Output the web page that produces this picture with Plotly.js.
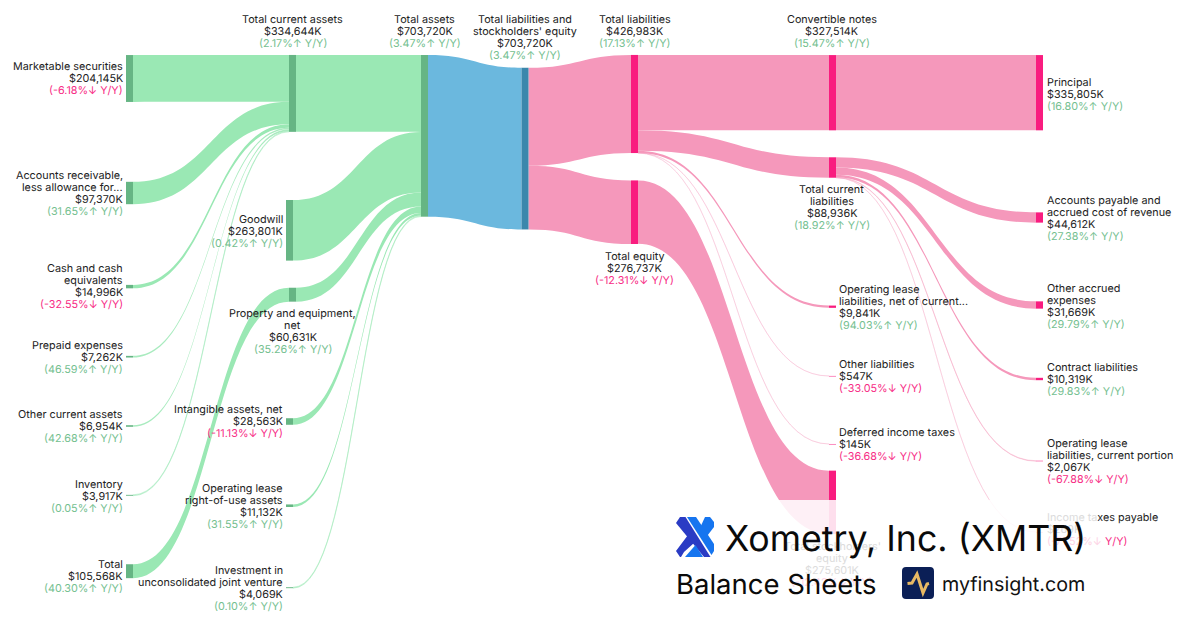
<!DOCTYPE html>
<html><head><meta charset="utf-8">
<script src="https://cdn.plot.ly/plotly-3.0.1.min.js"></script>
<style>html,body{margin:0;padding:0;background:#fff}#chart{width:1200px;height:630px}
.sankey path,.sankey .sankey-link{shape-rendering:geometricPrecision !important}
.annotation text{text-rendering:geometricPrecision}</style>
</head><body><div id="chart"></div>
<script>
// ---------- data ----------
const nodeNames = [
 'Marketable securities','Accounts receivable, less allowance for...','Cash and cash equivalents','Prepaid expenses','Other current assets','Inventory','Total',
 'Total current assets','Goodwill','Property and equipment, net','Intangible assets, net','Operating lease right-of-use assets','Investment in unconsolidated joint venture',
 'Total assets',"Total liabilities and stockholders' equity",'Total liabilities','Total equity',
 'Convertible notes','Total current liabilities','Operating lease liabilities, net of current...','Other liabilities','Deferred income taxes',"Total stockholders' equity",
 'Principal','Accounts payable and accrued cost of revenue','Other accrued expenses','Contract liabilities','Operating lease liabilities, current portion','Income taxes payable'];
const amounts = ['$204,145K','$97,370K','$14,996K','$7,262K','$6,954K','$3,917K','$105,568K',
 '$334,644K','$263,801K','$60,631K','$28,563K','$11,132K','$4,069K',
 '$703,720K','$703,720K','$426,983K','$276,737K',
 '$327,514K','$88,936K','$9,841K','$547K','$145K','$275,601K',
 '$335,805K','$44,612K','$31,669K','$10,319K','$2,067K','$269K'];
const yoy = [-6.18,31.65,-32.55,46.59,42.68,0.05,40.30,
 2.17,0.42,35.26,-11.13,31.55,0.10,
 3.47,3.47,17.13,-12.31,
 15.47,18.92,94.03,-33.05,-36.68,-12.42,
 16.80,27.38,29.79,29.83,-67.88,-71.52];
const linkSource = [0,1,2,3,4,5,6, 7,8,9,10,11,12, 13, 14,14, 15,15,15,15,15, 16, 17, 18,18,18,18,18];
const linkTarget = [7,7,7,7,7,7,9, 13,13,13,13,13,13, 14, 15,16, 17,18,19,20,21, 22, 23, 24,25,26,27,28];
const linkValue  = [204145,97370,14996,7262,6954,3917,60631,
 334644,263801,60631,28563,11132,4069,
 703720, 426983,276737,
 327514,88936,9841,547,145, 275601, 327514,
 44612,31669,10319,2067,269];

// ---------- placement (page pixels) ----------
const nodeCx = [129.5,129.5,129.5,129.5,129.5,129.5,129.5,
 292.5,289.5,292.5,289.5,289.5,289.5,
 424.5,525,634.5,634.5,
 832.5,832.5,832.5,832.5,832.5,832.5,
 1039.5,1039.5,1039.5,1039.5,1039.5,1039.5];
const nodeCy = [78.5,193,286.6,356.7,426,495.3,571.2,
 93.4,230.3,294.7,421.5,505.7,587.7,
 135.85,148.6,104,212.2,
 92.7,167.5,306.7,376,444,502.3,
 92.7,217.5,305,379,461,532];
const labelSpec = [
 [124,'right',66,['Marketable securities']],
 [124,'right',175,['Accounts receivable,','less allowance for...']],
 [124,'right',268,['Cash and cash','equivalents']],
 [124,'right',345,['Prepaid expenses']],
 [124,'right',414,['Other current assets']],
 [124,'right',484,['Inventory']],
 [124,'right',564.5,['Total']],
 [292.6,'center',19,['Total current assets']],
 [284,'right',219,['Goodwill']],
 [292.6,'center',313,['Property and equipment,','net']],
 [284,'right',409,['Intangible assets, net']],
 [284,'right',488,['Operating lease','right-of-use assets']],
 [284,'right',570,['Investment in','unconsolidated joint venture']],
 [424.5,'center',19,['Total assets']],
 [524.5,'center',19,['Total liabilities and',"stockholders' equity"]],
 [634.6,'center',19,['Total liabilities']],
 [634.6,'center',256,['Total equity']],
 [831.5,'center',19,['Convertible notes']],
 [831.5,'center',189,['Total current','liabilities']],
 [838,'left',289,['Operating lease','liabilities, net of current...']],
 [838,'left',364,['Other liabilities']],
 [838,'left',432,['Deferred income taxes']],
 [832,'center',546,["Total stockholders'",'equity']],
 [1046,'left',82,['Principal']],
 [1046,'left',200,['Accounts payable and','accrued cost of revenue']],
 [1046,'left',288,['Other accrued','expenses']],
 [1046,'left',367,['Contract liabilities']],
 [1046,'left',443,['Operating lease','liabilities, current portion']],
 [1046,'left',517,['Income taxes payable']]
];
const W=1200,H=630,ROW=12,SANKEY_H=161.7,KY=SANKEY_H/703720;
const FONT='Inter, sans-serif';
const INK='#222222',UP='#74c08f',DOWN='#f72c85',INK_FADE='#dcdcdc',UP_FADE='#e3f2e9',DOWN_FADE='#fdd3e5';
const LINK_G='154,232,180',NODE_G='#66b584',LINK_P='245,152,187',NODE_P='#f91c7f',LINK_B='107,184,222',NODE_B='#3b87ac';

function nodeColor(i){ if(i===14) return NODE_B; return i<=13?NODE_G:NODE_P; }
// hairline flows are drawn at one pixel by the library, so their ink is thinned to their real width
function linkAlpha(v){ const w=v*KY; if(w<1.2) return +(0.24+0.26*w).toFixed(2); return w<2?0.85:1; }
function linkColor(s,i){ const rgb=s===13?LINK_B:(s<13?LINK_G:LINK_P); return 'rgba('+rgb+','+linkAlpha(linkValue[i])+')'; }

// ---------- sankey ----------
const trace={type:'sankey',arrangement:'fixed',orientation:'h',
 domain:{x:[0,1],y:[1-SANKEY_H/H,1]},
 node:{thickness:7,pad:0,label:nodeNames.map(()=>''),hoverinfo:'none',
  x:nodeCx.map(v=>v/W),y:nodeCy.map(v=>v/SANKEY_H),
  color:nodeNames.map((_,i)=>nodeColor(i)),line:{width:0}},
 link:{source:linkSource,target:linkTarget,value:linkValue,hoverinfo:'none',
  color:linkSource.map(linkColor),line:{width:0}}
};

// ---------- labels ----------
const ann=[];
function line(x,anchor,y,text,color,size){
 ann.push({xref:'paper',yref:'paper',x:x/W,y:1-(y+0.3)/H,xanchor:anchor,yanchor:'middle',text:text,showarrow:false,
  borderpad:0,align:anchor,font:{family:FONT,size:size||10.8,color:color}});
}
function pct(v){return '('+v.toFixed(2)+'%'+(v>=0?'↑':'↓')+' Y/Y)';}
labelSpec.forEach((s,i)=>{
 const [x,a,y0,names]=s; let y=y0;
 const v=yoy[i];
 const faded=i===22;
 const partly=i===28;
 names.forEach(n=>{
  let t=n,c=faded?INK_FADE:INK;
  if(partly) t='<span style="color:'+INK_FADE+'">Income ta</span>xes payable';
  line(x,a,y,t,c); y+=ROW;
 });
 line(x,a,y,amounts[i],(faded||partly)?INK_FADE:INK); y+=ROW;
 if(partly){
  line(x,a,y,'<span style="color:'+DOWN_FADE+'">(-71.52%↓ </span>Y/Y)',DOWN);
 } else {
  line(x,a,y,pct(v),faded?(v>=0?UP_FADE:DOWN_FADE):(v>=0?UP:DOWN));
 }
});
line(723.5,'left',538,'Xometry, Inc. (XMTR)','#0a0a0a',35.7);
line(674.5,'left',584,'Balance Sheets','#0a0a0a',27.5);
line(941,'left',583.5,'myfinsight.com','#111',19.7);

// ---------- overlay + logos ----------
function px(x,y){return (x/W).toFixed(5)+','+(1-y/H).toFixed(5);}
function poly(pts){return 'M'+pts.map(p=>px(p[0],p[1])).join('L')+'Z';}
function shp(path,fill){return {type:'path',xref:'paper',yref:'paper',layer:'above',path:path,fillcolor:fill,line:{width:0}};}
const XDARK='#2a3bc4',XLIGHT='#1675ef';
const shapes=[
 {type:'rect',xref:'paper',yref:'paper',layer:'above',x0:660/W,x1:1090/W,y0:1-600/H,y1:1-500/H,fillcolor:'rgba(255,255,255,0.86)',line:{width:0}},
 shp(poly([[699,530],[705,517],[710,517],[714,522],[714,527],[704,540]]),XLIGHT),
 shp(poly([[676,551],[688,535],[694,543],[684,552],[681,557],[680,557]]),XDARK),
 shp(poly([[676,523],[680,517],[685.5,517],[710.5,557],[704,557]]),XDARK),
 shp(poly([[687,517],[696,517],[714,544],[714,551],[711.5,555]]),XLIGHT),
 shp(poly([[685,557],[695.5,545],[703,557]]),XLIGHT),
 shp('M'+px(906,567)+'L'+px(930,567)+'Q'+px(934,567)+' '+px(934,571)+'L'+px(934,595)+'Q'+px(934,599)+' '+px(930,599)+'L'+px(906,599)+'Q'+px(902,599)+' '+px(902,595)+'L'+px(902,571)+'Q'+px(902,567)+' '+px(906,567)+'Z','#0b1f56'),
 {type:'path',xref:'paper',yref:'paper',layer:'above',path:'M'+px(907.5,583.5)+'L'+px(912,583)+'L'+px(917,574)+'L'+px(923,593)+'L'+px(927,584)+'L'+px(929,583.5),line:{color:'#e8b964',width:3}}
];

Plotly.newPlot('chart',[trace],{width:W,height:H,margin:{l:0,r:0,t:0,b:0},paper_bgcolor:'#fff',showlegend:false,font:{family:FONT},annotations:ann,shapes:shapes},{displayModeBar:false,staticPlot:true});
</script></body></html>
